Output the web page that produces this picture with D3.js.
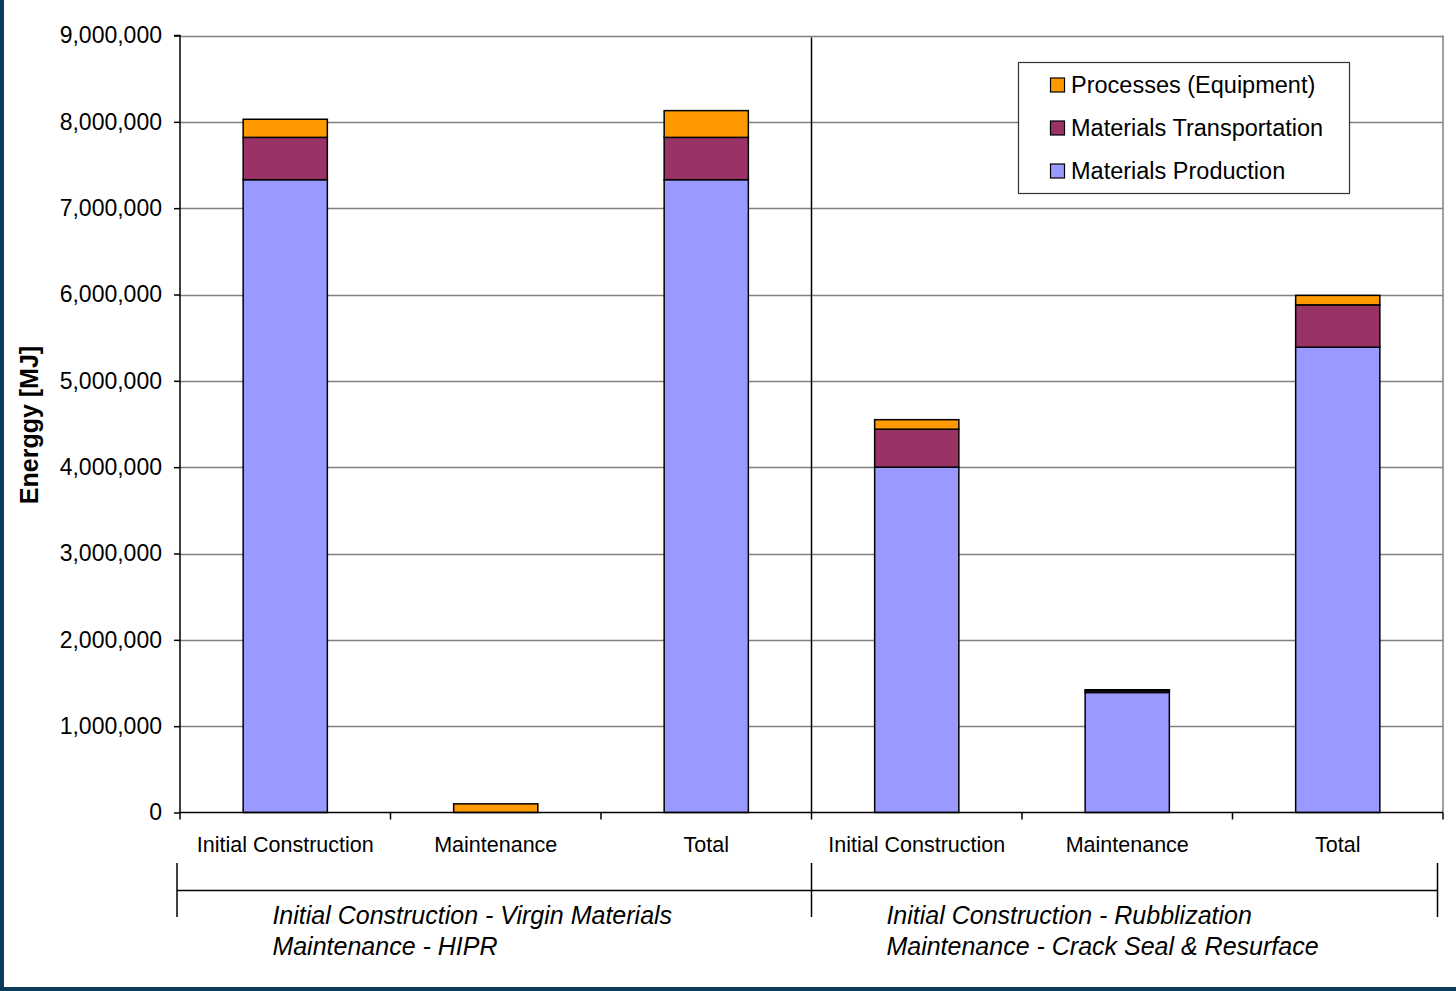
<!DOCTYPE html>
<html>
<head>
<meta charset="utf-8">
<script src="https://cdn.jsdelivr.net/npm/d3@7"></script>
<style>
  html, body { margin: 0; padding: 0; background: #ffffff; }
  svg { display: block; font-family: "Liberation Sans", Arial, sans-serif; }
</style>
</head>
<body>
<svg id="chart" width="1456" height="991"></svg>
<script>
// Categories (two scenario groups, three bars each)
const categories = ["Initial Construction", "Maintenance", "Total",
                    "Initial Construction", "Maintenance", "Total"];
const groupLabels = [
  ["Initial Construction - Virgin Materials", "Maintenance - HIPR"],
  ["Initial Construction - Rubblization", "Maintenance - Crack Seal & Resurface"]
];

// Energy by component [MJ]
const materialsProduction     = [7330000, 0,      7330000, 4000000, 1390000, 5390000];
const materialsTransportation = [490000,  0,      490000,  440000,  20000,   490000];
const processesEquipment      = [210000,  100000, 310000,  110000,  12000,   110000];

const seriesNames  = ["Materials Production", "Materials Transportation", "Processes (Equipment)"];
const seriesColors = ["#9999FF", "#993366", "#FF9900"];
const yTicks = [0, 1000000, 2000000, 3000000, 4000000, 5000000, 6000000, 7000000, 8000000, 9000000];

const svg = d3.select("#chart");
const W = 1456, H = 991;
const plot = { left: 180, right: 1443, top: 35.5, bottom: 812.5 };

svg.append("rect").attr("width", W).attr("height", H).attr("fill", "#ffffff");

const x = d3.scaleBand().domain(d3.range(categories.length))
  .range([plot.left, plot.right]).paddingInner(0.6).paddingOuter(0.3);
const xOuter = d3.scaleBand().domain(d3.range(categories.length))
  .range([plot.left, plot.right]).padding(0);
const y = d3.scaleLinear().domain([0, 9000000]).range([plot.bottom, plot.top]);

// Gridlines
svg.append("g").selectAll("line").data(yTicks.slice(1)).join("line")
  .attr("x1", plot.left).attr("x2", plot.right)
  .attr("y1", d => Math.round(y(d)) + 0.5).attr("y2", d => Math.round(y(d)) + 0.5)
  .attr("stroke", "#808080").attr("stroke-width", 1.5);

// Plot-area border on the right
svg.append("line").attr("x1", plot.right).attr("x2", plot.right)
  .attr("y1", plot.top).attr("y2", plot.bottom)
  .attr("stroke", "#808080").attr("stroke-width", 1.5);

// Group separator
svg.append("line").attr("x1", xOuter(3)).attr("x2", xOuter(3))
  .attr("y1", plot.top + 2).attr("y2", plot.bottom)
  .attr("stroke", "#000").attr("stroke-width", 1.5);

// Stacked bars
const rows = categories.map((c, i) => ({
  i,
  "Materials Production": materialsProduction[i],
  "Materials Transportation": materialsTransportation[i],
  "Processes (Equipment)": processesEquipment[i]
}));
const stacked = d3.stack().keys(seriesNames)(rows);

svg.append("g").selectAll("g").data(stacked).join("g")
  .attr("fill", (d, k) => seriesColors[k])
  .selectAll("rect").data(d => d.filter(s => s[1] - s[0] > 0)).join("rect")
  .attr("x", d => x(d.data.i))
  .attr("width", x.bandwidth())
  .attr("y", d => y(d[1]))
  .attr("height", d => y(d[0]) - y(d[1]))
  .attr("stroke", "#000").attr("stroke-width", 1.5);

// Y axis
const yAxis = d3.axisLeft(y).tickValues(yTicks).tickSize(6).tickPadding(12)
  .tickFormat(d3.format(",d"));
const gy = svg.append("g").attr("transform", `translate(${plot.left},0)`).call(yAxis);
gy.select(".domain").attr("stroke", "#000").attr("stroke-width", 1.5)
  .attr("d", `M-6,${plot.top}H0V${plot.bottom}`);
gy.selectAll(".tick line").attr("stroke", "#000").attr("stroke-width", 1.5);
gy.selectAll(".tick text").attr("font-size", 23).attr("fill", "#000")
  .attr("font-family", "'Liberation Sans', Arial, sans-serif");

// X axis (category ticks at band boundaries)
svg.append("line").attr("x1", plot.left).attr("x2", plot.right)
  .attr("y1", plot.bottom).attr("y2", plot.bottom)
  .attr("stroke", "#000").attr("stroke-width", 1.5);
const boundaries = d3.range(categories.length + 1).map(i =>
  i < categories.length ? xOuter(i) : plot.right);
svg.append("g").selectAll("line").data(boundaries).join("line")
  .attr("x1", d => d).attr("x2", d => d)
  .attr("y1", plot.bottom).attr("y2", plot.bottom + 7)
  .attr("stroke", "#000").attr("stroke-width", 1.5);
svg.append("g").selectAll("text").data(categories).join("text")
  .attr("x", (d, i) => xOuter(i) + xOuter.bandwidth() / 2)
  .attr("y", 852)
  .attr("text-anchor", "middle")
  .attr("font-size", 21.5).attr("fill", "#000")
  .text(d => d);

// Group axis
const gTop = 863, gMid = 890.5, gBot = 917;
const groupEdges = [177, xOuter(3), 1437.5];
svg.append("line").attr("x1", groupEdges[0]).attr("x2", groupEdges[2])
  .attr("y1", gMid).attr("y2", gMid).attr("stroke", "#000").attr("stroke-width", 1.5);
svg.append("g").selectAll("line").data(groupEdges).join("line")
  .attr("x1", d => d).attr("x2", d => d).attr("y1", gTop).attr("y2", gBot)
  .attr("stroke", "#000").attr("stroke-width", 1.5);

groupLabels.forEach((lines, g) => {
  const cx = (groupEdges[g] + groupEdges[g + 1]) / 2 - 22;
  const t = svg.append("g");
  const texts = lines.map((s, k) => t.append("text")
    .attr("y", 924 + k * 31)
    .attr("font-size", 25).attr("font-style", "italic").attr("fill", "#000")
    .text(s));
  const w = d3.max(texts, n => n.node().getComputedTextLength());
  texts.forEach(n => n.attr("x", cx - w / 2));
});

// Y axis title
svg.append("text")
  .attr("transform", "translate(38,425) rotate(-90)")
  .attr("text-anchor", "middle")
  .attr("font-size", 25).attr("font-weight", "bold").attr("fill", "#000")
  .text("Energgy [MJ]");

// Legend
const legend = svg.append("g");
legend.append("rect").attr("x", 1018.5).attr("y", 62.5).attr("width", 331).attr("height", 131)
  .attr("fill", "#fff").attr("stroke", "#333").attr("stroke-width", 1.2);
const legendOrder = [2, 1, 0];
legendOrder.forEach((k, r) => {
  const cy = 85 + r * 43;
  legend.append("rect").attr("x", 1050.5).attr("y", cy - 7).attr("width", 14).attr("height", 14)
    .attr("fill", seriesColors[k]).attr("stroke", "#000").attr("stroke-width", 1.2);
  legend.append("text").attr("x", 1071).attr("y", cy + 8)
    .attr("font-size", 23.5).attr("fill", "#000").text(seriesNames[k]);
});

// Frame strips on the left and bottom
svg.append("rect").attr("x", 0).attr("y", 0).attr("width", 4).attr("height", H).attr("fill", "#0c3a5c");
svg.append("rect").attr("x", 0).attr("y", 987).attr("width", W).attr("height", 4).attr("fill", "#0c3a5c");
</script>
</body>
</html>
